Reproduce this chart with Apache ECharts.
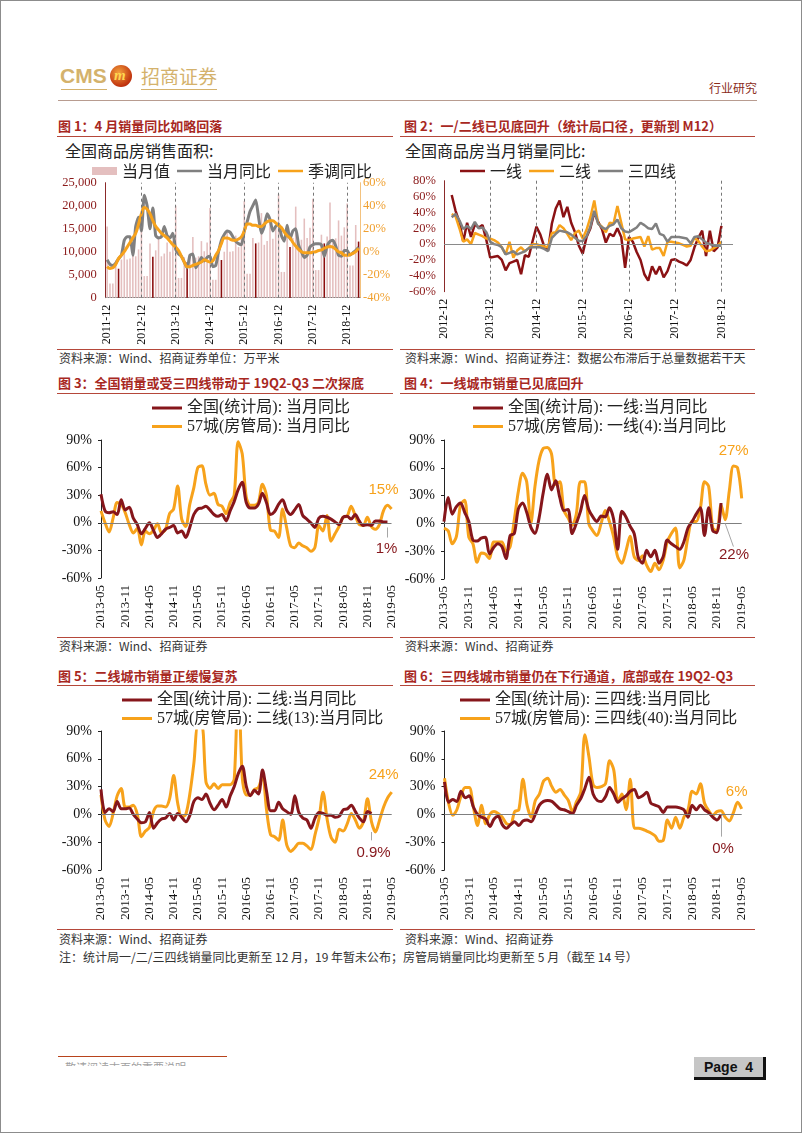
<!DOCTYPE html>
<html><head><meta charset="utf-8">
<script src="https://cdn.jsdelivr.net/npm/echarts@6/dist/echarts.min.js"></script>
<style>
html,body{margin:0;padding:0;background:#fff;}
#page{position:relative;width:802px;height:1133px;overflow:hidden;font-family:"Noto Sans CJK SC",sans-serif;background:#fff;}
#chart{position:absolute;left:0;top:0;width:802px;height:1133px;}
.frame{position:absolute;left:0;top:0;width:802px;height:1133px;box-sizing:border-box;border:1px solid #8c8c8c;pointer-events:none;}
.t{position:absolute;white-space:nowrap;}
.ttl{font-size:13px;font-weight:bold;color:#a8281f;line-height:16px;}
.rl{position:absolute;height:0;border-top:1.5px solid #b5473a;}
.src{font-size:12px;color:#333;line-height:15px;}
.sub{font-size:16px;color:#222;line-height:20px;}
</style></head>
<body>
<div id="page">
  <!-- header -->
  <div class="t" style="left:60px;top:64px;font:bold 21px/24px 'Liberation Sans',sans-serif;color:#d4b26c;">CMS</div>
  <div style="position:absolute;left:61px;top:89px;width:46px;border-top:1px solid #d4b26c;"></div>
  <div style="position:absolute;left:110px;top:65px;width:22px;height:22px;border-radius:50%;background:radial-gradient(circle at 40% 35%,#f4a23c,#c0320e 70%,#8c1c08);"></div>
  <div class="t" style="left:114px;top:66px;font:italic bold 15px/19px 'Liberation Serif',serif;color:#ffd650;">m</div>
  <div class="t" style="left:141px;top:64px;font-size:19px;line-height:23px;color:#d4b26c;">招商证券</div>
  <div style="position:absolute;left:141px;top:89px;width:76px;border-top:1px solid #d4b26c;"></div>
  <div class="t" style="left:709px;top:81px;font-size:12px;line-height:14px;color:#8b2c1a;">行业研究</div>
  <div style="position:absolute;left:58px;top:100px;width:699px;border-top:1.5px solid #b89c90;"></div>

  <!-- titles -->
  <div class="t ttl" style="left:58px;top:118px;">图 1：4 月销量同比如略回落</div>
  <div class="rl" style="left:57px;top:136px;width:336px;"></div>
  <div class="t ttl" style="left:404px;top:118px;">图 2：一/二线已见底回升（统计局口径，更新到 M12）</div>
  <div class="rl" style="left:400px;top:136px;width:355px;"></div>
  <div class="t sub" style="left:65px;top:140px;">全国商品房销售面积:</div>
  <div class="t sub" style="left:405px;top:140px;">全国商品房当月销量同比:</div>
  <div class="rl" style="left:57px;top:349px;width:336px;"></div>
  <div class="rl" style="left:400px;top:349px;width:355px;"></div>
  <div class="t src" style="left:59px;top:350px;">资料来源：Wind、招商证券单位：万平米</div>
  <div class="t src" style="left:405px;top:350px;">资料来源：Wind、招商证券注：数据公布滞后于总量数据若干天</div>

  <div class="t ttl" style="left:58px;top:375px;">图 3：全国销量或受三四线带动于 19Q2-Q3 二次探底</div>
  <div class="rl" style="left:57px;top:393px;width:336px;"></div>
  <div class="t ttl" style="left:404px;top:375px;">图 4：一线城市销量已见底回升</div>
  <div class="rl" style="left:400px;top:393px;width:355px;"></div>
  <div class="rl" style="left:57px;top:637px;width:336px;"></div>
  <div class="rl" style="left:400px;top:637px;width:355px;"></div>
  <div class="t src" style="left:59px;top:638px;">资料来源：Wind、招商证券</div>
  <div class="t src" style="left:405px;top:638px;">资料来源：Wind、招商证券</div>

  <div class="t ttl" style="left:58px;top:668px;">图 5：二线城市销量正缓慢复苏</div>
  <div class="rl" style="left:57px;top:685px;width:336px;"></div>
  <div class="t ttl" style="left:404px;top:668px;">图 6：三四线城市销量仍在下行通道，底部或在 19Q2-Q3</div>
  <div class="rl" style="left:400px;top:685px;width:355px;"></div>
  <div class="rl" style="left:57px;top:929px;width:336px;"></div>
  <div class="rl" style="left:400px;top:929px;width:355px;"></div>
  <div class="t src" style="left:59px;top:931px;">资料来源：Wind、招商证券</div>
  <div class="t src" style="left:405px;top:931px;">资料来源：Wind、招商证券</div>
  <div class="t src" style="left:59px;top:949px;">注：统计局一/二/三四线销量同比更新至 12 月，19 年暂未公布；房管局销量同比均更新至 5 月（截至 14 号）</div>

  <!-- footer -->
  <div style="position:absolute;left:58px;top:1056px;width:169px;border-top:1.5px solid #b8431c;"></div>
  <div style="position:absolute;left:65px;top:1062px;width:140px;height:4px;overflow:hidden;opacity:0.7;">
    <div class="t" style="left:0;top:0;font-size:11px;line-height:11px;color:#777;">敬请阅读末页的重要说明</div>
  </div>
  <div style="position:absolute;left:694px;top:1057px;width:69px;height:20px;background:#c6c6c6;border-right:3px solid #111;border-bottom:3px solid #111;text-align:center;font:bold 14px/20px 'Liberation Sans Narrow','Liberation Sans',sans-serif;color:#111;">Page&nbsp;&nbsp;4</div>

  <div id="chart"></div>
  <div class="frame"></div>
</div>
<script>
// ---------- helpers for category labels ----------
function monthRange(start, end){
  const out=[]; let [y,m]=start.split('-').map(Number); const [ey,em]=end.split('-').map(Number);
  while(y<ey||(y===ey&&m<=em)){ out.push(y+'-'+String(m).padStart(2,'0')); m++; if(m>12){m=1;y++;} }
  return out;
}
function align(cats, start, vals){
  const s=cats.indexOf(start);
  return cats.map((c,i)=>{ const k=i-s; return (k>=0&&k<vals.length&&vals[k]!==null)?vals[k]:'-'; });
}

// ---------- Figure 1: national sales area ----------
const months1 = monthRange('2011-12','2019-04');
const areaMonthly = [15500,
  3100,3100,8100,6300,8300,11300,8300,8500,10800,9000,10500,17500,
  4700,4700,11800,8900,10300,13300,9000,9600,12000,10000,12400,20000,
  4300,4300,8800,7700,9100,13200,8700,9000,12300,10100,12000,19500,
  3900,3900,9100,8200,10000,14200,10000,10100,13500,11000,12800,21000,
  5200,5200,13000,11800,12000,18400,11500,12300,16500,12800,15200,22500,
  5600,5600,14300,11000,13000,19800,12300,12600,17200,13000,15200,21500,
  6000,6000,13700,11800,13300,20700,12400,12900,16800,13500,15300,20500,
  7000,7000,15800,12200];
const yoyMonthly = [-7,-11,-12,-10,-6,-3,10,13,13,-3,22,30,
  18,49,40,20,38,14,12,13,22,14,12,16,
  2,-2,-4,-9,-14,-3,-2,-14,-10,-5,-8,-5,
  -4,-13,-12,0,10,15,18,17,13,9,7,6,
  18,26,35,40,45,30,16,22,33,28,18,22,
  24,14,9,23,11,18,20,6,0,-5,-3,4,
  6,7,7,6,-4,5,9,10,5,-3,-4,1,
  1,-3,-1,1,4];
const yoySeasonal = [-13,-14.5,-14,-11,-6,-3,0,4,8,12,16,24,
  33,38.5,37,33,27,22,19,16,14,12,9,6,
  4,1,-4,-9,-13,-13,-12,-11,-10,-9,-7,-8,
  -9,-8,-3,1,7,12,12,11,10,10,11,13,
  18,24,24,23,23,22,22,24,26,27,27,25,
  23,21,17,14,12,8,5,2,0,-1,-1,-1,
  -0.5,0,1,1.5,3,4,4.5,4,2,0,-1,-3,
  -3,-2.5,-1.5,0,3];

// ---------- Figure 2: tiers (stats bureau) ----------
const months2 = monthRange('2012-12','2019-03');
const tierStart2 = '2013-02';
const tier1 = [62,42,28,3,27,9,25,21,24,5,
  -17,-16,-15,-20,-33,-24,-22,-20,-38,-14,
  -16,4,22,12,-3,-8,26,45,55,34,
  47,27,15,-2,-12,9,20,40,28,19,
  2,13,10,20,9,-30,9,3,-10,-20,
  -38,-46,-28,-38,-28,-42,-34,-20,-19,-22,
  -24,-27,-20,-4,8,17,-15,17,-9,-4,
  23];
const tier2 = [38,35,20,3,6,0,14,12,10,7,
  7,5,2,-4,-13,3,-17,-8,-4,-9,
  -5,0,0,-2,-3,-4,14,15,24,20,
  13,5,14,17,7,18,34,55,26,22,
  15,27,26,48,27,6,5,7,8,9,
  -3,10,-7,-5,-5,-15,3,3,2,1,
  -1,-3,-2,8,4,-3,-9,-8,-5,-2,
  3];
const tier34 = [34,38,30,19,23,19,28,20,21,15,
  3,0,-1,-4,-13,-11,-9,-13,-11,-9,
  -5,-4,-4,-4,-6,-9,8,13,17,16,
  15,12,8,4,4,10,22,42,26,21,
  19,23,25,31,20,16,15,18,21,27,
  24,20,19,26,13,11,3,9,9,9,
  8,7,1,9,10,6,2,0,-2,-2,
  -2];

// ---------- Figures 3-6: 2013-05 .. 2019-05 ----------
const months3 = monthRange('2013-05','2019-05');
const natTotal = [31,13,11,12,9,25,14,17,5,-2,-12,-6,
  0,-8,-16,-12,-7,-5,-3,-11,-9,-16,-5,9,
  15,16,18,14,9,7,9,2,13,23,36,44,
  22,16,16,20,32,22,9,12,20,25,14,9,
  14,20,8,4,0,-5,5,7,6,4,1,-2,
  6,7,4,9,2,-3,-2,-3,2,2,1,1];
const city57Total = [13,0,-10,5,22,20,11,-2,-11,-6,-24,-9,
  -12,-8,-1,-11,-7,10,15,40,4,-4,20,38,
  60,62,42,30,32,20,18,10,22,30,88,75,
  28,19,19,22,42,30,-8,-9,-16,15,-5,-25,
  -27,-22,-25,-27,-31,-27,-3,-9,8,-20,-12,-4,
  6,7,18,8,-2,-3,6,-4,-7,-2,13,19,
  15];
const natT1 = [2,28,10,18,22,12,2,-18,-19,-16,-15,-33,
  -26,-22,-25,-38,-13,-11,16,22,12,-4,-11,6,
  33,53,36,46,28,14,15,-11,0,13,30,15,
  7,2,8,7,17,5,-28,13,7,-3,-11,-37,
  -43,-29,-36,-29,-43,-36,-18,-22,-25,-28,-20,-5,
  2,10,17,-13,17,-8,-10,22];
const city57T1 = [-5,-8,-22,-14,20,25,-15,-22,-42,-32,-33,-38,
  -20,-20,-20,-30,-25,4,35,54,45,0,40,68,
  81,82,75,42,45,14,6,-2,10,45,45,0,
  -8,-13,0,14,2,-14,-36,-43,-30,-14,-36,-40,
  -35,-45,-52,-43,-50,-40,-20,-11,-5,-48,-40,-15,
  2,2,16,45,40,-5,-8,20,4,35,62,60,
  27];
const natT2 = [27,2,6,3,14,6,6,7,0,-5,-9,-8,
  2,-15,-9,-5,-4,1,-6,1,-3,-8,-1,14,
  18,16,22,12,5,10,16,8,20,30,44,52,
  30,20,26,22,48,25,4,4,13,6,3,0,
  20,2,-4,-6,-15,-4,2,1,-1,-1,-3,-2,
  5,6,10,3,-4,-8,3,1];
const city57T2 = [21,-6,-13,1,20,28,8,8,10,0,-24,-18,
  -14,3,9,9,8,17,42,12,-3,0,22,55,
  95,95,35,28,33,28,32,32,32,38,150,39,
  21,21,27,29,42,5,-22,-24,-28,-6,-33,-40,
  -36,-31,-31,-34,-38,-22,-4,24,-5,-25,-30,-16,
  -18,-10,1,-6,-15,-8,17,-8,-19,-6,8,18,
  24];
const natT34 = [35,13,16,14,25,18,20,8,0,-3,-5,-13,
  -5,-2,-11,-15,-11,-8,-12,-7,-6,-8,0,10,
  14,15,14,10,6,5,3,1,10,17,28,40,
  22,15,14,19,29,22,13,17,20,25,27,18,
  20,24,12,10,8,2,8,8,8,7,5,-3,
  10,5,10,5,2,-3,-6,0];
const city57T34 = [39,12,-1,5,20,29,29,8,-12,10,-10,0,
  3,1,-3,-10,-11,3,5,38,10,-3,15,22,
  36,39,30,24,27,21,15,3,14,24,86,62,
  32,29,30,33,58,48,14,22,5,38,-15,-15,
  -16,-18,-20,-23,-29,-28,-6,-15,-3,-15,-3,5,
  25,22,33,12,4,-1,3,4,-3,-7,2,13,
  6];

// ---------- styling ----------
const DARK='#86161b', ORANGE='#f7a21b', GRAY='#808080', PINK='#e4bfbf', BARDARK='#8b0d0d';
const SERIF="'Liberation Serif','Times New Roman',serif";
const MIX="'Liberation Serif','Noto Sans CJK SC',serif";
const CJK="'Noto Sans CJK SC',sans-serif";
const LINE_ICON='path://M0,0h30v3h-30z';

const chart = echarts.init(document.getElementById('chart'), null, {renderer:'canvas'});

const grids = [
  {left:105.7, top:182.7, width:254.3, height:115},
  {left:444, top:180.7, width:289, height:111},
  {left:101, top:440, width:290.5, height:138},
  {left:444, top:440, width:297.7, height:139},
  {left:101, top:731, width:290.7, height:139},
  {left:444.5, top:731, width:297.2, height:139}
];

function catAxis(gi, data, showFn, fs, extra){
  return Object.assign({gridIndex:gi, type:'category', data, boundaryGap:false,
    axisLine:{show:false}, axisTick:{show:false},
    axisLabel:{interval:(i,v)=>showFn(v), rotate:90, fontFamily:SERIF, fontSize:fs, color:'#111', margin:7}}, extra||{});
}
const isDec = v=>v.endsWith('-12');
const isHalf = v=>v.endsWith('-05')||v.endsWith('-11');

const xAxes = [
  catAxis(0, months1, isDec, 12, {boundaryGap:true, axisLine:{show:true, lineStyle:{color:'#808080'}}}),
  catAxis(1, months2, isDec, 12),
  catAxis(2, months3, isHalf, 13),
  catAxis(3, months3, isHalf, 13),
  catAxis(4, months3, isHalf, 13),
  catAxis(5, months3, isHalf, 13)
];
function pctAxis(gi){
  return {gridIndex:gi, type:'value', min:-60, max:90, interval:30,
    axisLine:{show:true, lineStyle:{color:'#222'}}, axisTick:{show:true, length:3, lineStyle:{color:'#222'}},
    splitLine:{show:false},
    axisLabel:{formatter:'{value}%', fontFamily:SERIF, fontSize:14, color:'#111', margin:9}};
}
const yAxes = [
  {gridIndex:0, type:'value', min:0, max:25000, interval:5000, position:'left',
    axisLine:{show:true, lineStyle:{color:'#8b2a2a'}}, axisTick:{show:false}, splitLine:{show:false},
    axisLabel:{formatter:v=>v.toLocaleString('en-US'), fontFamily:SERIF, fontSize:12.5, color:'#8b1a1a', margin:9}},
  {gridIndex:0, type:'value', min:-40, max:60, interval:20, position:'right',
    axisLine:{show:true, lineStyle:{color:'#f3c27e'}}, axisTick:{show:false}, splitLine:{show:false},
    axisLabel:{formatter:'{value}%', fontFamily:SERIF, fontSize:12.5, color:'#f0a030', margin:3}},
  {gridIndex:1, type:'value', min:-60, max:80, interval:20,
    axisLine:{show:true, lineStyle:{color:'#8b2a2a'}}, axisTick:{show:false}, splitLine:{show:false},
    axisLabel:{formatter:'{value}%', fontFamily:SERIF, fontSize:12.5, color:'#8b1a1a', margin:8}},
  pctAxis(2), pctAxis(3), pctAxis(4), pctAxis(5)
];

function line(name, data, color, gi, yi, extra){
  return Object.assign({type:'line', name, data, xAxisIndex:gi, yAxisIndex:yi, symbol:'none',
    smooth:0.3, lineStyle:{width:3, color}, itemStyle:{color}, emphasis:{disabled:true}}, extra||{});
}
function zeroLine(){
  return {symbol:['none','none'], silent:true, label:{show:false},
    lineStyle:{color:'#7f7f7f', width:1.2, type:'solid'}, data:[{yAxis:0}]};
}
function annot(coord, text, color, offset){
  return {symbol:'circle', symbolSize:0, silent:true,
    data:[{coord, value:text, label:{show:true, formatter:text, color, fontSize:15, fontFamily:"'Liberation Sans',sans-serif", offset}}]};
}
function leader(a, b){
  return {symbol:['none','none'], silent:true, label:{show:false},
    lineStyle:{color:'#a6a6a6', width:1, type:'solid'},
    data:[[{coord:a},{coord:b}]]};
}

const decLines1 = months1.filter(m=>isDec(m) && m!=='2011-12').map(m=>({xAxis:m}));
const decLines2 = months2.filter(m=>isDec(m) && m!=='2012-12').map(m=>({xAxis:m}));

const series = [
  // fig 1
  {type:'bar', name:'当月值', xAxisIndex:0, yAxisIndex:0, barWidth:'55%',
    itemStyle:{color:PINK}, emphasis:{disabled:true},
    data: areaMonthly.map((v,i)=> months1[i].endsWith('-04') ? {value:v, itemStyle:{color:BARDARK}} : v),
    markLine:{symbol:['none','none'], silent:true, label:{show:false},
      lineStyle:{color:'#777', width:1, type:[3,3]}, data:decLines1}},
  line('当月同比', yoyMonthly, GRAY, 0, 1, {smooth:0.2, lineStyle:{width:3, color:GRAY}}),
  line('季调同比', yoySeasonal, ORANGE, 0, 1, {smooth:0.4}),
  // fig 2
  line('一线', align(months2, tierStart2, tier1), '#8b1214', 1, 2, {smooth:false, lineStyle:{width:2.5, color:'#8b1214'},
    markLine:{symbol:['none','none'], silent:true, label:{show:false},
      lineStyle:{color:'#777', width:1, type:[3,3]},
      data:[{yAxis:0, lineStyle:{color:'#8a8a8a', type:'solid', width:1.2}}].concat(decLines2)}}),
  line('二线', align(months2, tierStart2, tier2), ORANGE, 1, 2, {smooth:false, lineStyle:{width:2.5, color:ORANGE}}),
  line('三四线', align(months2, tierStart2, tier34), GRAY, 1, 2, {smooth:false, lineStyle:{width:2.5, color:GRAY}}),
  // fig 3
  line('57城(房管局): 当月同比', city57Total, ORANGE, 2, 3, {markLine:zeroLine(),
    markPoint:annot(['2019-05',15], '15%', ORANGE, [-8,-19])}),
  line('全国(统计局): 当月同比', align(months3,'2013-05',natTotal), DARK, 2, 3, {
    markLine:leader(['2019-04',-5],['2019-04',-16]),
    markPoint:annot(['2019-04',1], '1%', DARK, [-1,27])}),
  // fig 4
  line('57城(房管局): 一线(4):当月同比', city57T1, ORANGE, 3, 4, {markLine:zeroLine(),
    markPoint:annot(['2019-05',27], '27%', ORANGE, [-8,-48])}),
  line('全国(统计局): 一线:当月同比', align(months3,'2013-05',natT1), DARK, 3, 4, {
    markLine:leader(['2019-01',0],['2019-03',-25]),
    markPoint:annot(['2018-12',22], '22%', DARK, [13,52])}),
  // fig 5
  line('57城(房管局): 二线(13):当月同比', city57T2, ORANGE, 4, 5, {markLine:zeroLine(),
    markPoint:annot(['2019-05',24], '24%', ORANGE, [-8,-17])}),
  line('全国(统计局): 二线:当月同比', align(months3,'2013-05',natT2), DARK, 4, 5, {
    markLine:leader(['2018-12',-19],['2018-12',-28]),
    markPoint:annot(['2018-12',1], '0.9%', DARK, [2,39])}),
  // fig 6
  line('57城(房管局): 三四线(40):当月同比', city57T34, ORANGE, 5, 6, {markLine:zeroLine(),
    markPoint:annot(['2019-05',6], '6%', ORANGE, [-5,-17])}),
  line('全国(统计局): 三四线:当月同比', align(months3,'2013-05',natT34), DARK, 5, 6, {
    markLine:leader(['2018-12',-1],['2018-12',-24]),
    markPoint:annot(['2018-12',0], '0%', DARK, [2,34])})
];

const li = n=>({name:n, icon:LINE_ICON});
function legendH(left, top, items){
  return {left, top, orient:'horizontal', padding:0, itemGap:7, itemWidth:25, itemHeight:8,
    textStyle:{fontSize:16, color:'#222', fontFamily:CJK}, selectedMode:false, data:items};
}
function legendV(left, top, names){
  return {left, top, orient:'vertical', padding:0, itemGap:2.5, itemWidth:30, itemHeight:10,
    textStyle:{fontSize:16, color:'#222', fontFamily:MIX}, selectedMode:false, data:names.map(li)};
}

chart.setOption({
  animation:false,
  grid:grids, xAxis:xAxes, yAxis:yAxes, series,
  legend:[
    legendH(92, 163, [{name:'当月值', icon:'rect'}, li('当月同比'), li('季调同比')]),
    legendH(460, 163, [li('一线'), li('二线'), li('三四线')]),
    legendV(152, 400, ['全国(统计局): 当月同比','57城(房管局): 当月同比']),
    legendV(473, 400, ['全国(统计局): 一线:当月同比','57城(房管局): 一线(4):当月同比']),
    legendV(122, 692, ['全国(统计局): 二线:当月同比','57城(房管局): 二线(13):当月同比']),
    legendV(460, 692, ['全国(统计局): 三四线:当月同比','57城(房管局): 三四线(40):当月同比'])
  ]
});
</script>
</body></html>
